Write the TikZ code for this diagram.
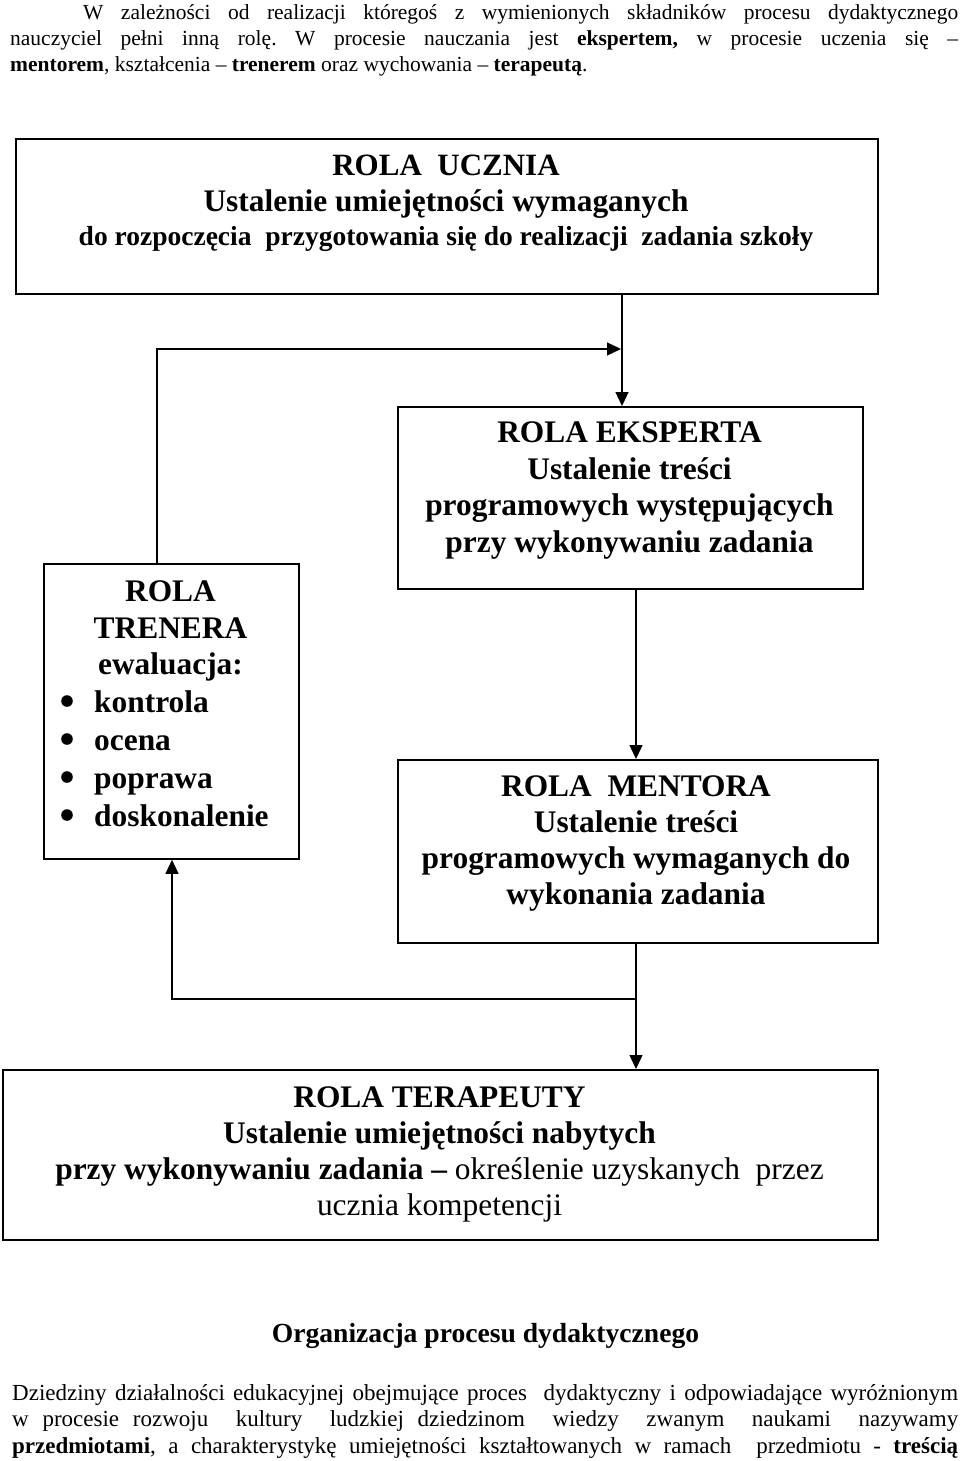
\documentclass[tikz,border=0pt]{standalone}
\usepackage{fontspec}
\setmainfont{Liberation Serif}
\usetikzlibrary{arrows.meta}
\frenchspacing
\newcommand{\parafont}{\fontsize{21.5}{25.7}\selectfont}
\newcommand{\parbfont}{\fontsize{23}{26.5}\selectfont}
\newcommand{\titlefont}{\fontsize{31.4}{36}\selectfont\bfseries}
\begin{document}
\begin{tikzpicture}[x=1pt,y=-1pt,
  box/.style={draw, line width=1.8pt, rectangle, inner sep=0pt, anchor=north west},
  ln/.style={anchor=base, inner sep=0pt, font=\titlefont},
  conn/.style={line width=1.3pt},
  arr/.style={conn, -{Triangle[length=14pt,width=13pt]}},
  para/.style={anchor=base west, inner sep=0pt, text width=948pt, align=justify, font=\parafont}
]
\useasboundingbox (0,0) rectangle (960,1461);
\fill[white] (0,0) rectangle (960,1461);

% top paragraph
\node[para] (p1) at (10,20) {\frenchspacing\hyphenpenalty=10000\tolerance=10000\hspace*{73pt}W zależności od realizacji któregoś z wymienionych składników procesu dydaktycznego\linebreak nauczyciel pełni inną rolę. W procesie nauczania jest \textbf{ekspertem,} w procesie uczenia się –\linebreak \textbf{mentorem}, kształcenia – \textbf{trenerem} oraz wychowania – \textbf{terapeutą}.};

% boxes
\node[box, minimum width=862pt, minimum height=155pt] (ucz) at (15,138) {};
\node[box, minimum width=465pt, minimum height=182pt] (eks) at (397,406) {};
\node[box, minimum width=480pt, minimum height=183pt] (men) at (397,759) {};
\node[box, minimum width=255pt, minimum height=295pt] (tre) at (43,563) {};
\node[box, minimum width=875pt, minimum height=170pt] (ter) at (2,1069) {};

% ROLA UCZNIA
\node[ln, font=\fontsize{31}{36}\selectfont\bfseries] (u1) at (446,175) {ROLA\ \ UCZNIA};
\node[ln, font=\fontsize{31.4}{36}\selectfont\bfseries] (u2) at (446,211) {Ustalenie umiejętności wymaganych};
\node[ln, font=\fontsize{27.5}{32}\selectfont\bfseries] (u3) at (446,245) {do rozpoczęcia\ \ przygotowania się do realizacji\ \ zadania szkoły};

% ROLA EKSPERTA
\node[ln] (e1) at (629.5,442) {ROLA EKSPERTA};
\node[ln] (e2) at (629.5,479) {Ustalenie treści};
\node[ln] (e3) at (629.5,515) {programowych występujących};
\node[ln] (e4) at (629.5,552) {przy wykonywaniu zadania};

% ROLA MENTORA
\node[ln] (m1) at (636,796) {ROLA\ \ MENTORA};
\node[ln] (m2) at (636,832) {Ustalenie treści};
\node[ln] (m3) at (636,868) {programowych wymaganych do};
\node[ln] (m4) at (636,904) {wykonania zadania};

% ROLA TRENERA
\node[ln] (t1) at (170.5,601) {ROLA};
\node[ln] (t2) at (170.5,638) {TRENERA};
\node[ln] (t3) at (170.5,674) {ewaluacja:};
\node[ln, anchor=base west] (t4) at (94,712) {kontrola};
\node[ln, anchor=base west] (t5) at (94,750) {ocena};
\node[ln, anchor=base west] (t6) at (94,788) {poprawa};
\node[ln, anchor=base west] (t7) at (94,826) {doskonalenie};
\foreach \yy in {712,750,788,826} \fill (67,\yy-11) circle[radius=5.8pt];

% ROLA TERAPEUTY
\node[ln] (r1) at (439.5,1107) {ROLA TERAPEUTY};
\node[ln] (r2) at (439.5,1143) {Ustalenie umiejętności nabytych};
\node[ln] (r3) at (439.5,1179) {przy wykonywaniu zadania – \mdseries określenie uzyskanych\ \ przez};
\node[ln] (r4) at (439.5,1215) {\mdseries ucznia kompetencji};

% heading
\node[ln, font=\fontsize{27.6}{32}\selectfont\bfseries] (org) at (485.5,1342) {Organizacja procesu dydaktycznego};

% bottom paragraph
\node[para, text width=946pt, font=\parbfont] (p2) at (12,1400) {\frenchspacing\hyphenpenalty=10000\tolerance=10000\parfillskip=0pt Dziedziny działalności edukacyjnej obejmujące proces\ \ dydaktyczny i odpowiadające wyróżnionym\linebreak w procesie rozwoju\ \ kultury\ \ ludzkiej dziedzinom\ \ wiedzy\ \ zwanym\ \ naukami\ \ nazywamy\linebreak \textbf{przedmiotami}, a charakterystykę umiejętności kształtowanych w ramach\ \ przedmiotu - \textbf{treścią}\par};

% connectors
\coordinate (c1) at (622,0);
\coordinate (c2) at (157,0);
\coordinate (c3) at (621,349);
\coordinate (c4) at (636,0);
\coordinate (c5) at (636,999);
\coordinate (c6) at (172,0);
\draw[arr] (ucz.south -| c1) -- (eks.north -| c1);
\draw[arr] (tre.north -| c2) |- (c3);
\draw[arr] (eks.south -| c4) -- (men.north -| c4);
\draw[arr] (men.south -| c4) -- (ter.north -| c4);
\draw[arr] (c5) -| (tre.south -| c6);
\end{tikzpicture}
\end{document}
